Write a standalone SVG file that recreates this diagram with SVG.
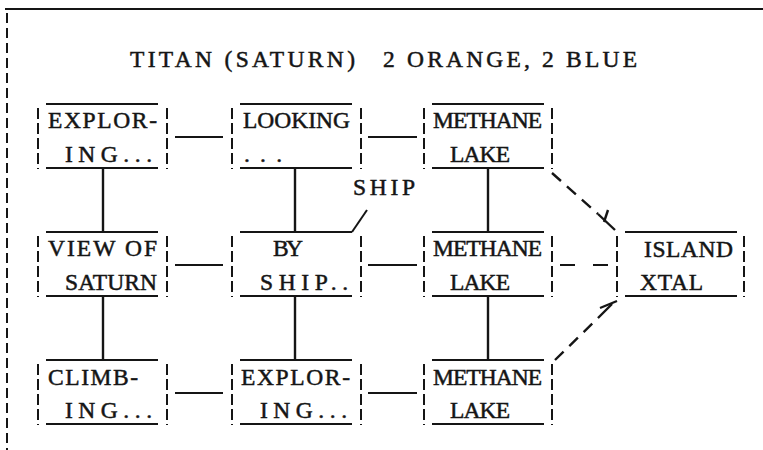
<svg xmlns="http://www.w3.org/2000/svg" width="763" height="450" viewBox="0 0 763 450">
<style>
.ln{stroke:#151515;stroke-width:2;fill:none}
.sd{stroke:#151515;stroke-width:2;fill:none;stroke-dasharray:11 4}
.cn{stroke:#151515;stroke-width:2.4;fill:none}
.dd{stroke:#151515;stroke-width:2.4;fill:none;stroke-dasharray:12 8}
.t{font-family:"Liberation Serif","Times New Roman",serif;font-size:23.5px;fill:#151515;stroke:#151515;stroke-width:0.5}
</style>
<rect width="763" height="450" fill="#fff"/>
<g id="frame">
<line class="ln" x1="5" y1="9" x2="763" y2="9" stroke-width="2.4"/>
<line class="ln" x1="7" y1="13" x2="7" y2="450" stroke-dasharray="10 5"/>
<text class="t" x="130" y="67" textLength="225">TITAN (SATURN)</text>
<text class="t" x="383" y="67" textLength="254">2 ORANGE, 2 BLUE</text>
</g>
<g id="connectors">
<line class="ln" x1="175" y1="137" x2="223" y2="137"/>
<line class="ln" x1="368" y1="137" x2="417" y2="137"/>
<line class="ln" x1="175" y1="265" x2="223" y2="265"/>
<line class="ln" x1="368" y1="265" x2="417" y2="265"/>
<line class="ln" x1="175" y1="393" x2="223" y2="393"/>
<line class="ln" x1="368" y1="393" x2="417" y2="393"/>
<line class="cn" x1="103" y1="168" x2="103" y2="232"/>
<line class="cn" x1="295" y1="168" x2="295" y2="232"/>
<line class="cn" x1="488" y1="168" x2="488" y2="232"/>
<line class="cn" x1="103" y1="296" x2="103" y2="360"/>
<line class="cn" x1="295" y1="296" x2="295" y2="360"/>
<line class="cn" x1="488" y1="296" x2="488" y2="360"/>
<line class="ln" x1="560" y1="265" x2="608" y2="265" stroke-dasharray="15 18"/>
<line class="dd" x1="552" y1="173" x2="598" y2="214"/>
<line class="cn" x1="598" y1="214" x2="615" y2="230"/>
<line class="cn" x1="604" y1="222" x2="608" y2="210"/>
<line class="dd" x1="555" y1="360" x2="598" y2="318"/>
<line class="cn" x1="598" y1="318" x2="612" y2="304"/>
<line class="cn" x1="600" y1="308" x2="617" y2="301"/>
<line class="ln" x1="352" y1="232" x2="367" y2="210"/>
<text class="t" x="353" y="195" textLength="62">SHIP</text>
</g>
<g id="n1">
<line class="ln" x1="46" y1="104" x2="158" y2="104"/><line class="ln" x1="46" y1="168" x2="158" y2="168"/>
<line class="sd" x1="38" y1="108" x2="38" y2="169"/><line class="sd" x1="167" y1="108" x2="167" y2="169"/>
<text class="t" x="48" y="128" textLength="109">EXPLOR-</text><text class="t" x="65" y="162" textLength="87">ING...</text>
</g>
<g id="n2">
<line class="ln" x1="240" y1="104" x2="352" y2="104"/><line class="ln" x1="240" y1="168" x2="352" y2="168"/>
<line class="sd" x1="232" y1="108" x2="232" y2="169"/><line class="sd" x1="361" y1="108" x2="361" y2="169"/>
<text class="t" x="243" y="128" textLength="107">LOOKING</text><text class="t" x="244" y="162" textLength="38">...</text>
</g>
<g id="n3">
<line class="ln" x1="432" y1="104" x2="544" y2="104"/><line class="ln" x1="432" y1="168" x2="544" y2="168"/>
<line class="sd" x1="424" y1="108" x2="424" y2="169"/><line class="sd" x1="552" y1="108" x2="552" y2="169"/>
<text class="t" x="433" y="128" textLength="109">METHANE</text><text class="t" x="450" y="162" textLength="60">LAKE</text>
</g>
<g id="n4">
<line class="ln" x1="46" y1="232" x2="158" y2="232"/><line class="ln" x1="46" y1="296" x2="158" y2="296"/>
<line class="sd" x1="38" y1="236" x2="38" y2="297"/><line class="sd" x1="167" y1="236" x2="167" y2="297"/>
<text class="t" x="48" y="256" textLength="109">VIEW OF</text><text class="t" x="65" y="290" textLength="92">SATURN</text>
</g>
<g id="n5">
<line class="ln" x1="240" y1="232" x2="352" y2="232"/><line class="ln" x1="240" y1="296" x2="352" y2="296"/>
<line class="sd" x1="232" y1="236" x2="232" y2="297"/><line class="sd" x1="361" y1="236" x2="361" y2="297"/>
<text class="t" x="273" y="256" textLength="30">BY</text><text class="t" x="260" y="290" textLength="88">SHIP..</text>
</g>
<g id="n6">
<line class="ln" x1="432" y1="232" x2="544" y2="232"/><line class="ln" x1="432" y1="296" x2="544" y2="296"/>
<line class="sd" x1="424" y1="236" x2="424" y2="297"/><line class="sd" x1="552" y1="236" x2="552" y2="297"/>
<text class="t" x="433" y="256" textLength="109">METHANE</text><text class="t" x="450" y="290" textLength="60">LAKE</text>
</g>
<g id="n7">
<line class="ln" x1="625" y1="232" x2="737" y2="232"/><line class="ln" x1="625" y1="296" x2="737" y2="296"/>
<line class="sd" x1="617" y1="236" x2="617" y2="297"/><line class="sd" x1="744" y1="236" x2="744" y2="297"/>
<text class="t" x="644" y="257" textLength="89">ISLAND</text><text class="t" x="640" y="290" textLength="63">XTAL</text>
</g>
<g id="n8">
<line class="ln" x1="46" y1="360" x2="158" y2="360"/><line class="ln" x1="46" y1="424" x2="158" y2="424"/>
<line class="sd" x1="38" y1="364" x2="38" y2="425"/><line class="sd" x1="167" y1="364" x2="167" y2="425"/>
<text class="t" x="48" y="385" textLength="90">CLIMB-</text><text class="t" x="65" y="418" textLength="87">ING...</text>
</g>
<g id="n9">
<line class="ln" x1="240" y1="360" x2="352" y2="360"/><line class="ln" x1="240" y1="424" x2="352" y2="424"/>
<line class="sd" x1="232" y1="364" x2="232" y2="425"/><line class="sd" x1="361" y1="364" x2="361" y2="425"/>
<text class="t" x="241" y="385" textLength="109">EXPLOR-</text><text class="t" x="260" y="418" textLength="87">ING...</text>
</g>
<g id="n10">
<line class="ln" x1="432" y1="360" x2="544" y2="360"/><line class="ln" x1="432" y1="424" x2="544" y2="424"/>
<line class="sd" x1="424" y1="364" x2="424" y2="425"/><line class="sd" x1="552" y1="364" x2="552" y2="425"/>
<text class="t" x="433" y="385" textLength="109">METHANE</text><text class="t" x="450" y="418" textLength="60">LAKE</text>
</g>
</svg>
